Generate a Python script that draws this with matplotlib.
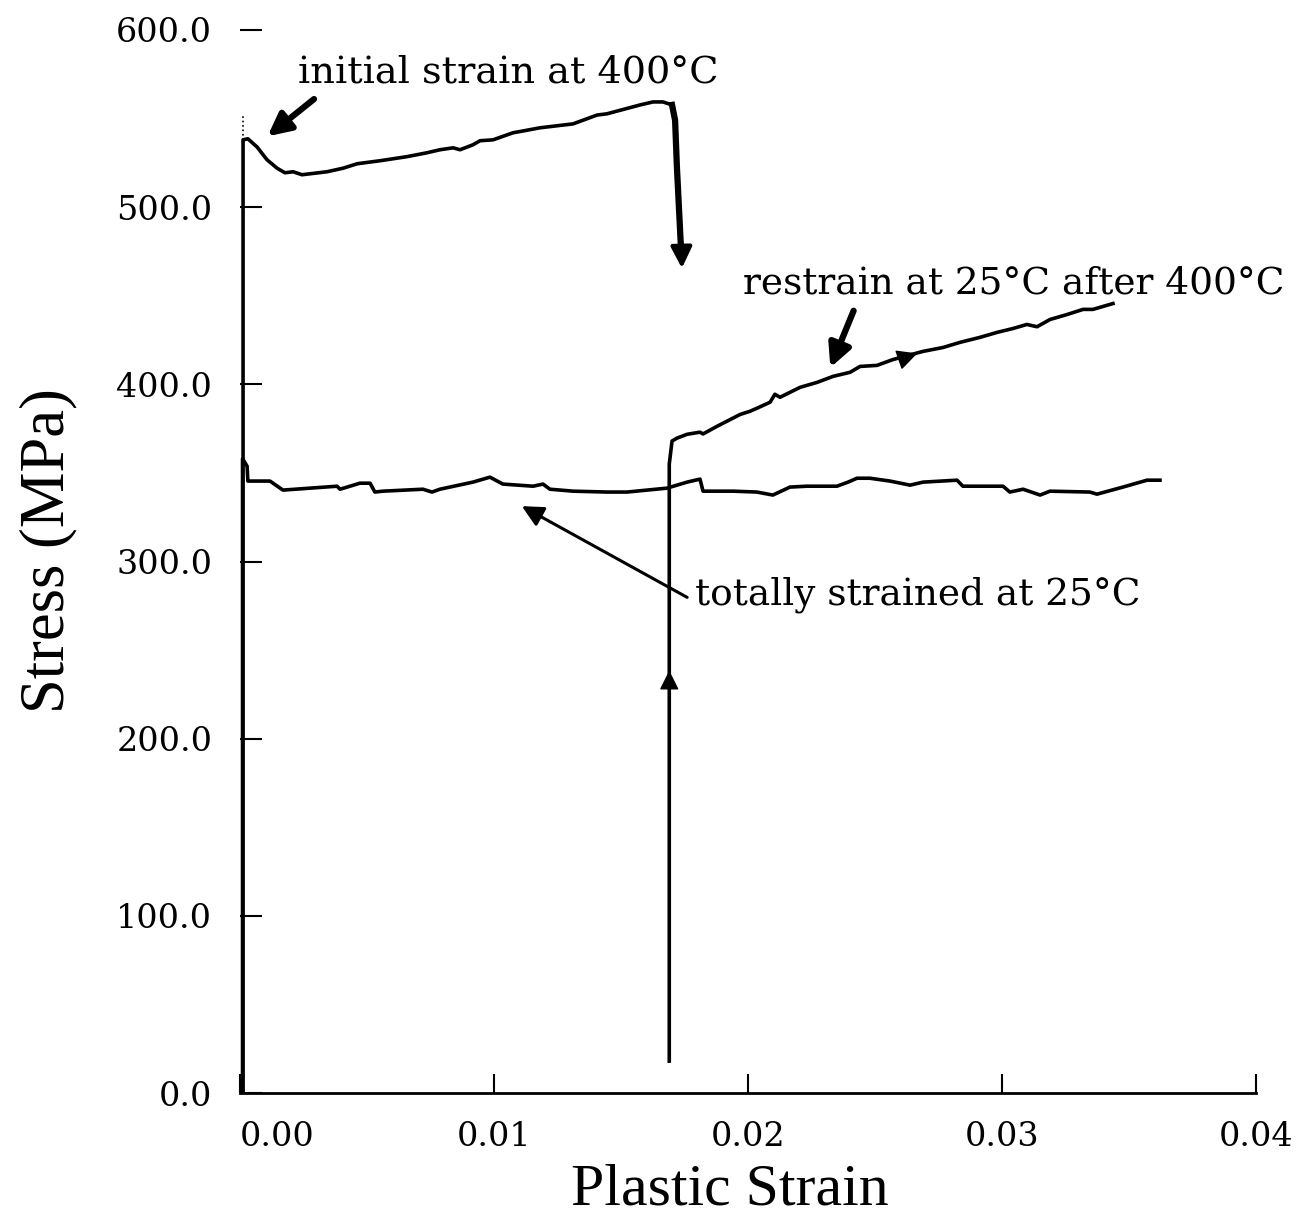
import matplotlib
matplotlib.use('Agg')
import matplotlib.pyplot as plt

# strain / stress readings for the three tests
hot_strain = [0.00012, 0.00012, 0.00031, 0.00067, 0.00106, 0.00146, 0.00177, 0.00209,
              0.00244, 0.00343, 0.00406, 0.00461, 0.00551, 0.00657, 0.00736, 0.00787,
              0.00839, 0.00866, 0.00917, 0.00945, 0.00996, 0.01075, 0.01114, 0.01181,
              0.01311, 0.01406, 0.01445, 0.01575, 0.01626, 0.01665, 0.01701]
hot_stress = [0, 538, 538.6, 534, 526.8, 522, 519.4, 520, 518.3, 520, 522, 524.5, 526.2,
              528.5, 530.7, 532.4, 533.5, 532.4, 535.2, 537.5, 538, 542, 543, 544.8, 547,
              552, 552.7, 557.7, 559.4, 559.4, 557.7]

unload_strain = [0.01701, 0.01713, 0.01720, 0.01735]
unload_stress = [557.7, 549, 523, 480]

restrain_strain = [0.0169, 0.0169, 0.01701, 0.0172, 0.0176, 0.01811, 0.01823, 0.01878,
                   0.01969, 0.02008, 0.02035, 0.02087, 0.02106, 0.02126, 0.02205, 0.02272,
                   0.02335, 0.02402, 0.02441, 0.02508, 0.02571, 0.02689, 0.02768, 0.02835,
                   0.02913, 0.0298, 0.03043, 0.03098, 0.03138, 0.03189, 0.03256, 0.03319,
                   0.03358, 0.03437]
restrain_stress = [18, 355, 368, 369.6, 371.8, 373, 372, 376.3, 383, 384.8, 386.5, 389.9,
                   394.4, 392.7, 398.3, 401.1, 404.5, 406.8, 410.1, 410.7, 414, 418.6,
                   420.8, 423.7, 426.5, 429.3, 431.5, 433.8, 432.5, 436.6, 439.4, 442.3,
                   442.3, 445.6]

cold_strain = [0.0001, 0.0001, 0.00028, 0.00031, 0.00118, 0.00169, 0.00382, 0.00394,
               0.00472, 0.00512, 0.00531, 0.00563, 0.0072, 0.00756, 0.00787, 0.00917,
               0.00984, 0.01035, 0.01154, 0.01193, 0.0122, 0.01311, 0.01445, 0.01524,
               0.01681, 0.0176, 0.01811, 0.01823, 0.01941, 0.02035, 0.02098, 0.02165,
               0.02232, 0.0235, 0.02394, 0.02429, 0.0248, 0.02559, 0.02638, 0.02689,
               0.02823, 0.02846, 0.03004, 0.03031, 0.03083, 0.0315, 0.03189, 0.03346,
               0.03374, 0.03476, 0.03571, 0.03622]
cold_stress = [0, 358, 353.8, 345.4, 345.4, 340.3, 342.5, 340.8, 344.2, 344.2, 339.2,
               339.7, 340.8, 339.2, 340.8, 344.8, 347.6, 343.7, 342.5, 343.7, 340.8, 339.7,
               339.2, 339.2, 341.4, 344.8, 346.5, 339.7, 339.7, 339.2, 337.5, 342, 342.5,
               342.5, 344.8, 347, 347, 345.4, 343.1, 344.8, 345.9, 342.5, 342.5, 339.2,
               340.8, 337.5, 339.7, 339.2, 338, 342, 345.9, 345.9]

x_ticks = [0.00, 0.01, 0.02, 0.03, 0.04]
y_ticks = [0, 100, 200, 300, 400, 500, 600]

serif = 'DejaVu Serif'
label_font = 'Liberation Serif'

fig = plt.figure(figsize=(13.06, 12.19), dpi=100)
ax = fig.add_axes([240 / 1306, 126 / 1219, 1016 / 1306, 1063 / 1219])

# 400 C test, then unloading drop
ax.plot(hot_strain, hot_stress, color='black', lw=2.6)
ax.plot([0.00012, 0.00012], [538, 552], color='black', lw=1.2, ls=':')
ax.plot(unload_strain, unload_stress, color='black', lw=4.5)
ax.annotate('', xy=(0.0174, 464), xytext=(0.01737, 482),
            arrowprops=dict(arrowstyle='-|>', color='black', lw=3, mutation_scale=32))

# reload at 25 C
ax.plot(restrain_strain, restrain_stress, color='black', lw=2.6)
ax.annotate('', xy=(0.0169, 240), xytext=(0.0169, 215),
            arrowprops=dict(arrowstyle='-|>', color='black', lw=1, mutation_scale=30))
ax.annotate('', xy=(0.02677, 418), xytext=(0.02587, 413.5),
            arrowprops=dict(arrowstyle='-|>', color='black', lw=1, mutation_scale=32))

# straight 25 C test
ax.plot(cold_strain, cold_stress, color='black', lw=2.6)

# labels with pointers
ax.text(0.0023, 576, 'initial strain at 400°C', fontsize=27.5, family=serif,
        va='center', ha='left')
ax.annotate('', xy=(0.0010, 539), xytext=(0.0030, 562),
            arrowprops=dict(arrowstyle='-|>', color='black', lw=4.5, mutation_scale=34))
ax.text(0.0198, 457, 'restrain at 25°C after 400°C', fontsize=27, family=serif,
        va='center', ha='left')
ax.annotate('', xy=(0.0232, 408), xytext=(0.0242, 443),
            arrowprops=dict(arrowstyle='-|>', color='black', lw=4.5, mutation_scale=34))
ax.text(0.0179, 281, 'totally strained at 25°C', fontsize=27, family=serif,
        va='center', ha='left')
ax.annotate('', xy=(0.0110, 332), xytext=(0.0177, 279),
            arrowprops=dict(arrowstyle='-|>', color='black', lw=2.2, mutation_scale=32))

ax.set_xlim(0, 0.04)
ax.set_ylim(0, 600)
ax.set_xticks(x_ticks)
ax.set_xticklabels([f'{t:.2f}' for t in x_ticks], family=serif, fontsize=24)
ax.get_xticklabels()[0].set_ha('left')
ax.set_yticks(y_ticks)
ax.set_yticklabels([f'{t:.1f}' for t in y_ticks], family=serif, fontsize=24)
ax.tick_params(axis='x', direction='in', length=14, width=1.5, pad=20)
ax.tick_params(axis='y', direction='in', length=16, width=1.5, pad=20)
for side in ['top', 'right', 'left']:
    ax.spines[side].set_visible(False)
ax.spines['bottom'].set_linewidth(2)

ax.set_xlabel('Plastic Strain', fontsize=43, family=label_font, labelpad=8)
ax.xaxis.label.set_x(0.482)
ax.set_ylabel('Stress (MPa)', fontsize=45, family=label_font, labelpad=28)
ax.yaxis.label.set_y(0.51)

fig.savefig('out.png', dpi=100)
